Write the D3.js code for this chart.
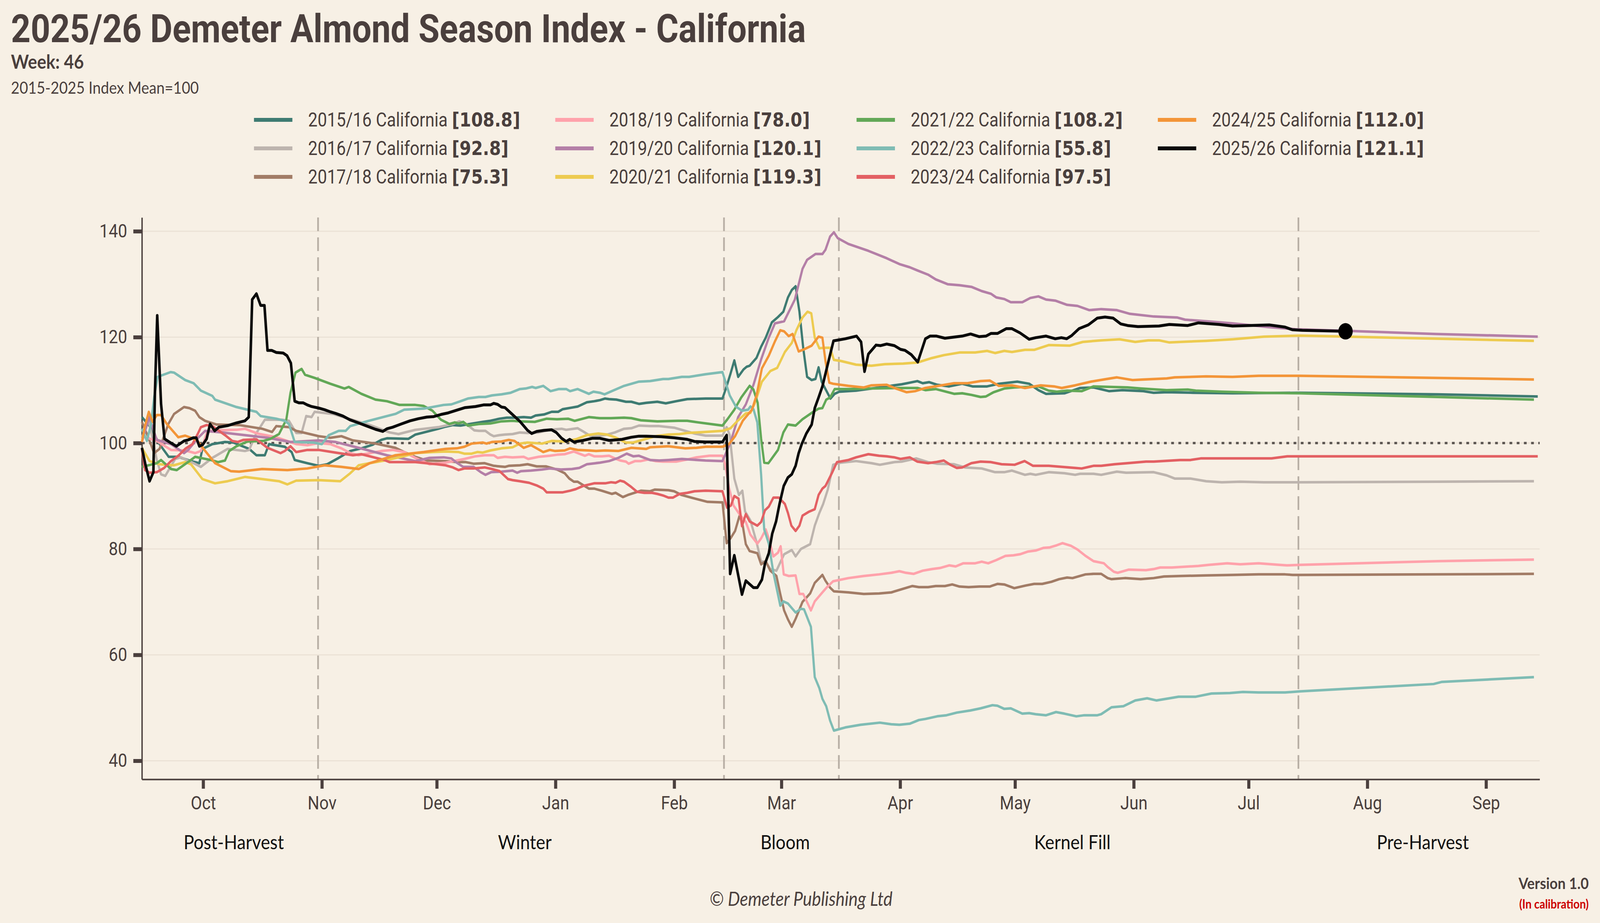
<!DOCTYPE html>
<html>
<head>
<meta charset="utf-8">
<script src="https://cdn.jsdelivr.net/npm/d3@7"></script>
<style>
  html, body { margin: 0; padding: 0; background: #f7f0e5; overflow: hidden; }
  svg { display: block; width: 100vw; height: 100vh; }
</style>
</head>
<body>
<svg id="chart"></svg>
<script>
// Every series is a list of [day, index] pairs, day = days since 15 Sep 2025.
var s1516 = [[0,104.9],[2.0,103.2],[4.6,99.8],[7.0,97.4],[9.5,97.4],[12.8,96.6],[15.0,96.2],[15.8,98.9],[18.4,99.8],[21.7,100.2],[23.9,100.1],[28.0,98.9],[29.9,97.7],[32.1,97.7],[33.2,99.8],[37.3,99.3],[39.1,98.3],[39.9,96.8],[43.2,96.2],[46.2,95.7],[48.4,96.0],[51.4,97.2],[54.4,98.5],[57.3,99.0],[60.3,99.7],[62.5,100.6],[64.0,100.9],[69.6,100.8],[71.4,101.6],[77.4,102.7],[79.3,103.1],[81.2,103.4],[83.2,103.3],[85.6,103.6],[89.0,104.0],[91.0,104.2],[93.4,104.6],[95.3,104.8],[97.3,104.8],[99.7,104.9],[101.6,104.8],[102.8,105.2],[105.0,105.4],[107.0,105.9],[108.7,105.9],[109.9,106.4],[112.3,106.7],[113.8,106.9],[116.2,107.7],[118.1,107.9],[119.6,108.1],[120.9,108.4],[122.0,108.3],[123.9,108.2],[126.4,107.8],[127.8,107.8],[129.8,107.4],[131.7,107.6],[134.6,107.8],[136.8,107.5],[139.5,107.9],[142.4,108.3],[147.2,108.4],[151.6,108.4],[152.5,110.3],[153.7,113.1],[154.7,115.6],[155.7,112.5],[157.1,113.9],[157.9,114.4],[158.7,114.6],[160.5,116.1],[161.7,118.2],[162.9,119.9],[164.5,122.8],[166.1,123.8],[167.5,124.8],[168.7,127.5],[169.7,128.9],[170.7,129.6],[171.7,124.8],[172.7,117.9],[173.7,112.5],[174.9,111.9],[175.9,112.1],[176.7,114.3],[177.5,111.6],[178.5,110.2],[179.8,108.4],[180.9,109.3],[182.1,109.7],[186.5,109.9],[194.5,110.7],[198.4,111.1],[200.5,111.4],[202.5,111.7],[203.9,111.3],[205.6,111.5],[207.7,111.0],[210.8,110.7],[214.2,111.2],[216.9,110.7],[220.7,110.7],[223.8,111.2],[228.6,111.6],[231.7,111.2],[234.1,110.0],[236.1,109.3],[240.9,109.4],[245.0,110.4],[248.5,110.5],[252.6,109.8],[256.0,110.0],[261.5,109.8],[264.2,109.5],[267.6,109.6],[274.5,109.5],[284.8,109.4],[302.4,109.5],[338.4,109.2],[364.5,108.8]];
var s1617 = [[0,101.0],[1.7,104.4],[2.8,100.8],[3.9,96.8],[5.0,94.1],[6.1,93.8],[8.7,97.0],[10.2,97.3],[13.5,96.2],[15.4,95.5],[18.4,97.2],[22.4,98.9],[26.9,98.5],[28.0,98.7],[29.9,101.9],[32.1,104.4],[36.5,104.4],[38.4,104.2],[40.3,101.9],[41.7,101.9],[42.9,105.1],[44.3,104.9],[45.1,105.9],[49.9,105.5],[54.4,104.5],[59.5,103.4],[64.7,102.0],[67.0,101.7],[71.4,102.5],[77.4,103.0],[81.2,103.6],[82.9,104.1],[84.2,103.8],[85.4,103.2],[86.8,102.4],[88.0,102.3],[89.7,102.3],[91.0,101.6],[91.9,101.3],[93.4,101.5],[94.8,101.6],[96.8,101.7],[98.7,102.0],[100.7,101.9],[103.6,102.0],[106.5,102.5],[109.6,102.7],[110.8,102.5],[113.8,102.8],[115.2,102.2],[117.2,101.3],[119.1,101.3],[121.5,101.6],[123.5,102.0],[125.9,102.7],[127.8,102.8],[129.8,103.3],[132.7,103.2],[135.1,103.2],[139.0,102.9],[141.9,102.3],[144.3,101.8],[147.2,101.4],[151.6,101.4],[152.7,103.0],[153.5,101.5],[154.7,93.3],[155.9,90.2],[156.8,91.0],[157.5,87.1],[158.9,85.4],[160.5,81.3],[161.7,77.6],[162.9,77.6],[164.1,76.2],[165.7,75.9],[167.7,79.0],[169.7,79.8],[170.7,78.6],[172.1,80.0],[174.5,80.9],[175.7,84.4],[176.9,86.8],[177.9,88.5],[179.1,91.2],[180.5,95.9],[182.5,96.3],[186.5,96.6],[190.5,96.2],[192.7,95.9],[196.5,96.4],[198.4,96.5],[202.2,97.1],[205.3,96.4],[207.7,96.1],[212.1,96.0],[214.9,95.4],[219.3,95.2],[222.8,94.5],[225.2,94.5],[227.2,94.8],[230.6,94.0],[232.0,94.2],[233.4,94.0],[236.8,94.5],[240.9,94.3],[243.7,94.0],[245.0,94.2],[248.5,94.2],[250.5,94.0],[254.6,94.6],[257.0,94.4],[264.2,94.5],[267.6,93.9],[269.7,93.3],[273.8,93.3],[277.9,92.8],[282.0,92.6],[286.8,92.7],[293.0,92.6],[302.4,92.6],[338.4,92.7],[363.5,92.8]];
var s1718 = [[0,104.0],[1.7,101.0],[3.2,98.1],[4.6,98.9],[6.9,103.6],[8.4,105.5],[11.0,106.8],[12.4,106.6],[13.9,106.1],[15.0,104.9],[16.5,104.2],[19.5,103.5],[25.4,103.4],[31.4,102.7],[34.0,102.1],[35.1,103.2],[38.4,103.0],[40.3,102.3],[46.2,101.3],[49.2,101.0],[52.1,101.3],[55.1,100.5],[61.0,99.9],[66.2,99.1],[68.5,98.3],[71.4,97.4],[74.4,96.7],[79.3,96.6],[82.2,96.4],[84.6,96.4],[86.6,96.1],[89.5,96.2],[91.9,95.7],[94.8,95.5],[95.8,95.7],[98.7,95.8],[100.7,96.0],[103.1,95.6],[105.5,95.6],[108.4,95.0],[110.4,94.3],[111.6,93.3],[112.8,92.7],[113.8,92.7],[116.7,91.4],[118.1,91.4],[120.1,91.0],[122.7,90.4],[123.7,90.6],[125.6,89.8],[126.9,90.2],[130.3,91.0],[132.7,90.9],[133.9,91.2],[137.5,91.1],[139.0,90.9],[140.9,90.2],[143.4,89.7],[147.7,88.9],[151.6,88.8],[152.7,81.1],[153.7,82.0],[154.9,83.4],[156.1,86.4],[156.9,84.4],[157.7,80.9],[158.7,79.6],[160.7,79.2],[161.7,77.1],[162.9,77.7],[164.1,75.9],[165.7,74.9],[166.7,71.5],[167.7,68.4],[168.7,66.7],[169.7,65.3],[170.7,66.8],[172.5,70.0],[174.5,71.6],[175.7,73.6],[177.7,75.1],[178.5,74.0],[179.7,72.7],[180.7,72.0],[184.5,71.8],[188.5,71.5],[192.5,71.6],[195.7,71.8],[198.4,72.4],[201.2,73.0],[202.9,72.8],[205.3,72.8],[207.3,73.0],[209.7,73.0],[211.6,73.3],[213.5,72.9],[215.9,72.8],[218.7,72.9],[221.4,72.9],[223.4,73.4],[225.2,73.3],[227.8,72.6],[230.8,73.1],[233.0,73.4],[235.1,73.4],[237.5,73.8],[239.5,74.3],[241.6,74.6],[243.0,74.5],[246.4,75.2],[248.5,75.3],[250.5,75.3],[252.2,74.5],[253.2,74.3],[256.7,74.5],[260.8,74.3],[264.2,74.5],[266.9,74.8],[271.1,74.9],[277.9,75.0],[284.8,75.1],[291.6,75.2],[298.5,75.2],[300.5,75.1],[302.4,75.1],[338.4,75.2],[363.5,75.3]];
var s1819 = [[0,101.3],[3.9,100.4],[7.6,98.7],[11.3,98.6],[13.9,98.1],[15.4,98.5],[16.9,101.9],[18.4,102.4],[24.7,102.5],[26.9,102.7],[30.2,101.8],[35.1,101.1],[40.3,99.8],[43.2,99.6],[46.2,100.0],[49.2,99.8],[52.1,99.0],[54.4,98.1],[56.6,97.7],[62.5,98.5],[65.5,98.7],[68.5,98.3],[71.4,97.2],[75.1,96.0],[79.3,96.3],[82.2,96.7],[84.2,97.0],[87.1,97.5],[89.5,97.7],[91.9,97.7],[92.9,97.2],[94.8,97.4],[96.8,97.3],[99.7,97.4],[100.9,97.0],[103.6,97.4],[106.5,97.6],[108.4,97.8],[110.4,97.9],[112.8,98.4],[114.2,98.0],[115.7,97.6],[116.7,97.9],[118.1,97.5],[120.1,97.5],[122.0,97.6],[123.5,97.1],[124.9,96.7],[126.4,96.5],[127.1,96.1],[128.8,96.6],[130.3,96.6],[132.2,96.9],[134.1,96.6],[136.1,96.5],[139.5,96.5],[142.4,96.9],[144.8,97.3],[148.2,97.6],[151.6,97.6],[152.3,96.0],[153.3,91.6],[154.5,88.2],[156.1,86.5],[157.7,85.1],[158.9,82.7],[160.7,81.0],[161.7,82.0],[162.9,83.7],[163.7,82.0],[164.9,78.6],[166.1,79.3],[166.8,80.5],[167.6,75.2],[168.9,74.9],[170.7,75.0],[171.7,71.5],[172.7,71.5],[174.7,68.4],[175.7,70.1],[177.7,71.8],[178.9,72.8],[180.5,73.9],[184.5,74.5],[188.5,74.9],[192.5,75.2],[195.7,75.5],[197.8,75.8],[199.5,75.5],[201.5,75.3],[203.9,75.9],[206.3,76.2],[208.4,76.4],[210.8,76.9],[212.5,76.7],[214.5,77.3],[217.6,77.3],[219.3,77.6],[221.0,77.3],[223.1,77.9],[225.5,78.7],[227.6,78.8],[229.3,79.0],[231.3,79.5],[233.4,79.7],[235.4,80.2],[237.1,80.3],[238.9,80.7],[240.4,81.1],[242.6,80.6],[244.3,79.9],[246.4,78.7],[248.5,77.7],[251.2,77.3],[252.2,76.6],[253.8,75.7],[254.8,75.5],[257.7,76.1],[262.2,76.0],[264.2,76.2],[265.9,76.5],[269.0,76.5],[275.9,76.8],[278.6,77.0],[283.4,77.3],[286.8,77.1],[291.6,77.3],[297.1,77.0],[299.0,76.9],[302.4,77.0],[338.4,77.7],[363.5,78.0]];
var s1920 = [[0,100.2],[1.9,104.9],[3.9,100.6],[7.6,99.8],[11.0,98.1],[12.1,98.7],[14.7,101.0],[16.5,102.3],[21.0,102.0],[26.9,101.5],[32.8,101.0],[38.8,100.2],[46.2,100.5],[50.6,100.2],[56.6,99.1],[64.0,97.7],[71.4,96.6],[75.1,97.2],[78.8,97.3],[80.8,97.1],[82.2,96.3],[83.9,95.5],[86.6,95.5],[88.5,94.5],[89.7,94.0],[91.2,94.5],[93.9,94.6],[96.8,94.8],[98.0,94.4],[99.0,94.7],[101.6,94.8],[104.5,95.0],[106.5,95.2],[109.4,95.0],[112.3,95.1],[114.2,95.3],[116.2,96.0],[119.6,96.3],[122.0,96.6],[124.4,97.2],[126.6,98.0],[128.3,97.5],[129.8,97.6],[132.7,96.8],[135.1,96.7],[137.5,96.8],[141.0,97.0],[147.2,96.7],[151.6,96.6],[153.7,100.1],[155.7,104.9],[157.7,107.3],[159.7,111.0],[161.7,115.8],[163.7,119.9],[165.3,122.6],[167.7,123.0],[170.5,127.1],[172.5,132.9],[173.7,134.6],[175.9,135.7],[177.7,135.7],[178.5,136.5],[179.7,139.0],[180.7,139.8],[181.7,138.7],[184.5,137.6],[189.7,136.3],[194.5,134.9],[197.8,133.8],[200.5,133.2],[202.5,132.6],[205.3,131.8],[207.3,130.9],[210.4,130.0],[213.5,129.8],[216.6,129.5],[219.3,128.7],[221.7,128.2],[223.1,127.5],[225.2,127.2],[226.9,126.6],[229.9,126.6],[232.0,127.4],[234.1,127.7],[236.1,127.1],[238.5,126.9],[241.6,126.1],[244.3,125.9],[247.4,125.1],[250.5,125.3],[254.6,125.1],[258.0,124.4],[264.2,123.9],[270.4,123.7],[272.4,123.3],[277.9,123.0],[284.8,122.6],[294.2,121.9],[301.2,121.5],[314.3,121.2],[338.0,120.6],[364.5,120.1]];
var s2021 = [[0,99.1],[2.0,96.6],[4.6,96.0],[8.3,95.8],[11.3,96.4],[12.8,96.0],[15.8,93.2],[19.1,92.4],[22.4,92.8],[26.9,93.6],[31.4,93.2],[35.8,92.8],[38.0,92.2],[40.3,92.9],[46.2,93.0],[51.8,92.8],[54.4,94.3],[56.6,95.8],[59.5,96.2],[64.0,96.8],[67.7,97.4],[71.4,98.1],[76.0,98.3],[79.3,98.4],[82.7,98.3],[84.2,98.0],[86.1,98.0],[87.6,98.3],[89.0,98.2],[91.0,98.6],[93.9,99.0],[96.8,99.2],[98.7,99.9],[100.7,100.1],[104.5,99.9],[107.0,100.4],[110.4,100.3],[113.3,100.7],[116.2,101.5],[119.1,101.8],[121.5,101.6],[123.5,101.1],[126.4,100.1],[128.3,100.1],[131.2,100.7],[134.1,101.3],[137.5,101.6],[140.4,101.7],[142.4,101.9],[147.2,102.1],[151.6,102.3],[153.7,102.8],[155.7,104.3],[157.7,105.6],[158.9,105.7],[160.1,107.6],[161.9,111.6],[164.1,113.6],[165.9,114.2],[167.9,117.2],[169.7,118.9],[170.9,121.3],[172.5,123.7],[173.8,124.8],[174.8,124.5],[175.7,119.9],[176.9,117.9],[178.1,118.0],[179.7,118.0],[180.7,115.7],[182.5,115.5],[186.5,114.8],[190.5,114.6],[194.0,114.9],[198.8,115.0],[202.5,115.2],[206.0,116.0],[209.4,116.6],[213.5,117.1],[217.6,117.1],[220.7,117.4],[222.8,117.0],[225.2,117.4],[227.2,117.2],[230.6,117.6],[233.0,117.6],[236.8,118.5],[242.3,118.4],[245.7,119.1],[250.5,119.4],[255.3,119.6],[259.4,119.1],[262.8,119.4],[265.6,119.4],[268.3,119.0],[274.5,119.2],[277.9,119.3],[284.8,119.6],[293.0,120.1],[302.4,120.3],[338.4,119.7],[363.5,119.3]];
var s2122 = [[0,95.5],[3.9,96.2],[5.0,96.8],[7.6,95.1],[9.1,94.9],[12.4,96.6],[13.9,97.4],[18.0,96.8],[19.9,96.4],[21.7,96.7],[22.8,98.5],[24.7,99.4],[27.6,100.3],[31.7,100.4],[33.6,100.8],[35.8,101.7],[37.7,104.4],[38.8,109.5],[40.1,113.3],[41.7,114.0],[42.6,112.9],[45.1,112.3],[49.2,111.2],[52.9,110.3],[54.0,110.6],[57.3,109.3],[61.0,108.2],[64.0,107.9],[67.3,107.2],[71.4,107.2],[73.6,107.0],[75.9,106.1],[78.1,104.4],[80.3,103.6],[81.7,103.9],[82.7,103.7],[83.9,104.0],[85.1,103.3],[88.0,103.6],[91.0,103.7],[93.9,104.1],[96.8,104.2],[98.7,104.1],[102.6,104.0],[105.7,104.6],[108.4,104.5],[111.3,104.6],[113.0,104.2],[116.7,104.9],[119.6,104.7],[122.5,104.7],[125.9,104.8],[127.8,104.7],[130.3,104.3],[134.6,104.1],[140.0,104.2],[142.4,104.2],[145.3,103.9],[151.6,103.3],[152.9,104.5],[154.7,106.3],[156.5,108.6],[158.7,110.8],[159.7,110.1],[160.8,107.6],[161.7,100.8],[162.5,96.3],[163.6,96.2],[164.9,97.5],[166.1,98.7],[167.5,102.0],[168.7,103.5],[170.7,103.3],[172.5,104.5],[174.9,105.7],[176.7,106.5],[177.7,106.6],[178.7,108.2],[179.7,108.6],[180.9,110.2],[184.5,110.2],[190.5,110.3],[198.5,110.4],[202.5,110.4],[204.6,110.0],[207.3,110.2],[212.1,109.3],[214.2,109.4],[216.6,109.1],[219.0,108.7],[220.4,108.8],[222.4,109.6],[225.2,110.3],[227.9,110.5],[234.1,110.7],[236.8,109.9],[238.9,109.7],[241.6,109.9],[245.4,109.8],[248.5,110.7],[257.4,110.5],[260.8,110.3],[267.6,110.0],[273.1,110.1],[275.2,109.9],[282.0,109.7],[291.6,109.5],[302.4,109.4],[338.4,108.7],[363.5,108.2]];
var s2223 = [[0,102.7],[1.3,100.4],[2.4,103.6],[3.2,108.7],[4.1,112.5],[7.5,113.4],[8.4,113.3],[11.3,111.9],[13.5,111.3],[15.4,109.9],[18.4,108.9],[19.1,108.2],[24.7,106.8],[29.9,105.9],[31.0,105.1],[35.1,104.6],[37.3,104.2],[38.4,103.6],[39.9,100.2],[44.7,100.1],[47.0,99.8],[48.8,101.5],[51.4,102.3],[53.2,102.3],[54.4,103.2],[59.2,104.2],[64.0,105.1],[66.2,105.5],[68.5,106.3],[73.6,106.5],[78.8,107.2],[80.8,107.3],[83.2,107.9],[85.1,108.4],[88.0,108.7],[89.7,108.7],[91.4,109.0],[93.9,109.2],[96.3,109.5],[98.7,110.2],[100.2,110.3],[101.9,110.6],[102.8,110.4],[104.8,110.8],[106.7,109.8],[108.9,110.2],[110.8,110.2],[111.8,109.8],[113.8,110.2],[116.7,109.3],[117.9,109.7],[119.6,109.5],[120.8,109.2],[123.0,109.9],[125.9,110.8],[129.8,111.6],[132.7,111.7],[136.1,112.1],[137.5,112.1],[141.0,112.5],[142.9,112.5],[147.2,113.0],[151.6,113.4],[153.5,109.0],[155.1,106.9],[156.7,106.1],[158.3,106.3],[158.9,106.9],[159.7,106.4],[160.7,103.9],[161.7,94.0],[162.5,83.7],[163.7,81.0],[164.9,75.5],[166.7,69.3],[167.5,70.1],[168.7,69.7],[170.7,68.0],[172.1,68.7],[172.9,68.6],[174.7,65.3],[175.7,55.8],[176.9,53.7],[177.7,51.7],[178.7,50.3],[179.7,47.6],[180.7,45.7],[183.7,46.3],[187.7,46.8],[192.7,47.2],[195.7,46.9],[197.8,46.8],[200.5,47.0],[202.9,47.7],[204.6,47.9],[207.7,48.4],[210.1,48.6],[212.8,49.1],[216.3,49.5],[219.0,49.9],[222.1,50.5],[223.4,50.4],[225.2,49.8],[226.9,49.9],[229.9,48.9],[231.7,49.0],[233.4,48.8],[236.1,48.6],[238.7,49.2],[240.9,48.9],[244.0,48.4],[246.1,48.6],[249.5,48.6],[250.5,48.8],[253.2,50.1],[256.3,50.3],[259.4,51.4],[262.5,51.8],[264.9,51.4],[268.3,51.8],[270.7,52.1],[275.2,52.1],[279.3,52.7],[284.1,52.8],[287.5,53.0],[291.6,52.9],[298.5,52.9],[302.4,53.1],[337.3,54.5],[339.5,54.9],[363.5,55.8]];
var s2324 = [[0,98.9],[0.8,94.9],[2.0,94.4],[3.9,94.5],[5.8,95.3],[7.6,96.6],[9.5,97.6],[11.3,98.9],[13.2,99.8],[14.7,101.9],[15.4,103.0],[16.9,103.4],[18.4,103.2],[21.7,101.5],[23.6,100.4],[25.0,100.2],[26.5,100.6],[29.9,100.7],[32.8,99.1],[36.2,98.1],[37.3,98.5],[38.8,99.4],[40.3,98.3],[43.2,98.7],[46.2,98.7],[50.6,98.2],[55.1,97.7],[57.3,97.9],[63.3,96.8],[64.7,96.4],[71.4,96.4],[77.0,96.0],[79.3,95.8],[81.2,95.4],[82.7,94.9],[84.2,95.2],[86.6,95.2],[89.5,95.4],[91.4,95.1],[93.4,94.7],[95.6,93.2],[96.8,93.0],[98.7,92.8],[101.1,92.5],[103.1,92.0],[104.8,91.4],[105.7,90.7],[109.9,90.7],[111.8,91.0],[113.3,91.3],[115.2,91.9],[118.1,92.4],[121.0,92.4],[122.5,92.6],[123.7,92.5],[124.9,92.9],[125.9,92.7],[127.8,91.7],[129.3,90.8],[131.2,90.6],[133.2,90.6],[134.6,90.4],[136.1,90.1],[137.5,89.7],[138.7,89.7],[140.4,90.4],[142.4,90.6],[144.3,90.9],[147.2,91.0],[151.6,90.9],[152.8,87.8],[153.8,88.2],[154.7,90.0],[155.8,89.5],[156.7,84.3],[157.7,86.6],[158.7,85.2],[160.7,84.4],[161.7,85.1],[162.7,87.3],[163.7,88.0],[164.9,89.7],[166.3,89.7],[167.9,88.5],[168.7,86.8],[169.6,84.4],[170.7,83.4],[171.7,84.4],[172.5,86.3],[174.1,87.0],[175.7,87.5],[176.7,90.2],[177.7,91.4],[178.5,91.9],[180.3,94.5],[181.5,96.4],[184.5,96.8],[186.5,97.3],[189.7,97.9],[192.5,97.6],[194.5,97.5],[196.5,97.3],[198.1,97.0],[200.5,97.3],[202.5,96.5],[205.3,96.2],[207.3,96.4],[209.4,96.7],[211.1,95.9],[212.8,95.3],[214.2,95.4],[216.6,96.2],[219.0,96.5],[221.7,96.4],[224.5,96.0],[227.9,95.9],[230.5,96.6],[232.7,95.7],[236.8,95.7],[243.7,95.3],[245.4,95.2],[248.5,95.7],[250.5,95.7],[254.0,96.0],[257.4,96.2],[262.2,96.5],[264.2,96.5],[271.1,96.8],[273.8,96.8],[276.5,97.1],[284.8,97.1],[295.0,97.1],[299.1,97.5],[302.4,97.5],[364.5,97.5]];
var s2425 = [[0,100.2],[0.8,103.2],[1.8,105.9],[2.8,104.0],[3.9,105.3],[5.0,105.3],[6.5,103.6],[9.5,101.1],[11.3,101.4],[14.3,100.6],[16.1,98.9],[19.1,96.2],[23.2,94.7],[25.4,94.6],[31.4,95.1],[38.0,94.9],[43.2,95.2],[47.7,95.8],[52.1,95.5],[56.6,95.1],[59.5,96.2],[66.2,97.7],[73.6,98.3],[79.3,98.9],[82.2,99.0],[84.2,99.3],[86.1,99.9],[89.0,100.1],[90.0,99.9],[91.4,100.2],[93.9,100.3],[95.8,100.6],[97.3,100.4],[99.7,99.1],[101.6,99.6],[103.1,99.0],[104.8,98.3],[106.5,98.7],[107.9,98.5],[110.4,98.6],[111.8,99.0],[113.8,98.7],[116.7,98.6],[118.6,98.5],[121.0,98.6],[124.4,98.5],[127.8,99.1],[131.7,98.9],[132.7,99.2],[137.5,99.4],[141.9,99.0],[144.8,99.1],[147.2,99.3],[151.6,99.3],[153.3,99.8],[154.9,101.3],[156.9,104.2],[159.3,106.3],[160.5,109.0],[161.9,114.1],[163.7,116.5],[165.3,119.2],[166.7,121.3],[167.7,121.1],[168.9,120.2],[169.9,120.6],[171.5,117.3],[172.9,117.7],[174.9,118.4],[176.7,120.1],[177.7,119.9],[178.5,115.5],[179.5,111.4],[180.5,111.2],[184.5,110.8],[188.5,110.5],[190.5,110.9],[194.5,111.0],[196.9,110.3],[199.7,109.6],[201.9,109.8],[204.6,110.4],[208.0,110.8],[212.1,111.3],[215.6,111.3],[219.0,111.7],[221.4,111.8],[223.8,110.8],[227.2,110.9],[230.6,110.4],[234.7,110.9],[238.2,110.7],[240.2,110.4],[243.7,110.9],[247.8,111.6],[251.9,112.1],[254.6,112.4],[258.7,111.9],[261.5,112.0],[267.6,112.2],[269.7,112.4],[277.9,112.6],[284.8,112.5],[291.6,112.7],[302.4,112.7],[338.4,112.3],[363.5,112.0]];
var s2526 = [[0,99.1],[0.9,96.0],[2.0,92.8],[3.0,94.5],[3.4,109.5],[4.0,124.1],[5.0,107.4],[5.9,100.8],[7.6,100.0],[9.0,99.4],[11.0,100.4],[12.1,100.6],[13.4,101.0],[14.2,101.0],[15.0,99.4],[15.9,99.7],[16.9,100.8],[17.8,103.6],[19.0,102.3],[20.1,103.0],[22.4,103.3],[24.7,103.8],[26.9,104.2],[27.9,104.9],[28.8,127.1],[29.9,128.2],[31.0,126.0],[32.0,126.0],[32.8,117.5],[33.9,117.5],[35.1,117.1],[36.9,117.0],[37.9,116.5],[38.9,115.1],[39.9,107.9],[41.0,107.6],[42.1,107.6],[43.2,107.2],[44.3,106.9],[46.2,106.6],[47.7,106.3],[49.2,105.9],[50.6,105.6],[52.5,105.1],[54.3,104.4],[56.6,103.8],[58.8,103.2],[61.0,102.6],[62.9,102.2],[64.0,102.7],[65.5,103.0],[67.7,103.6],[70.0,104.2],[72.2,104.6],[74.4,104.9],[76.2,105.0],[78.1,105.4],[80.0,105.7],[82.6,106.3],[84.4,106.7],[87.1,106.9],[89.2,107.2],[91.0,107.2],[91.9,107.5],[92.9,107.3],[93.9,106.8],[94.8,106.7],[96.3,105.7],[98.7,104.1],[100.7,102.4],[101.8,101.8],[103.1,102.2],[105.0,102.4],[107.0,102.5],[108.2,102.0],[109.6,100.9],[110.8,100.3],[111.7,100.7],[112.8,100.2],[115.2,100.5],[117.6,100.9],[119.6,100.9],[122.0,100.5],[125.4,100.7],[127.8,101.1],[129.8,101.3],[131.7,101.3],[135.6,101.2],[139.0,101.0],[142.4,100.7],[144.3,100.3],[147.2,100.2],[151.6,100.2],[152.7,101.5],[153.6,75.3],[154.7,78.8],[156.7,71.4],[157.7,74.0],[159.7,72.7],[160.7,72.7],[161.9,74.2],[162.7,77.2],[163.7,79.2],[164.6,82.9],[165.6,85.2],[166.5,88.5],[167.6,91.9],[168.7,93.5],[169.7,94.1],[170.7,95.7],[171.5,98.1],[172.3,99.8],[173.5,101.8],[174.9,103.5],[175.7,106.6],[176.7,108.6],[177.7,110.7],[179.1,114.9],[180.6,119.3],[183.7,119.7],[186.6,120.2],[187.8,119.1],[188.7,113.5],[189.7,116.8],[191.7,118.5],[192.9,118.4],[194.5,118.7],[196.5,118.4],[198.1,117.7],[199.3,117.5],[200.9,116.7],[202.6,115.3],[204.6,119.7],[205.8,120.2],[207.5,120.2],[209.7,119.8],[214.2,120.2],[216.4,120.6],[218.6,120.1],[220.4,120.2],[221.7,120.7],[223.4,120.7],[225.7,121.6],[227.2,121.6],[229.3,120.8],[231.7,119.6],[233.4,119.9],[236.1,120.2],[238.5,119.7],[240.1,119.9],[241.5,119.7],[242.8,120.3],[244.7,121.6],[247.1,122.3],[249.5,123.6],[251.5,123.8],[253.6,123.6],[255.6,122.5],[257.4,122.2],[260.1,122.0],[265.6,122.1],[268.3,122.4],[273.1,122.2],[275.9,122.7],[281.3,122.4],[284.8,122.1],[294.4,122.3],[298.5,121.9],[300.4,121.4],[303.0,121.3],[314.3,121.1]];

var seasonNames = ["2015/16", "2016/17", "2017/18", "2018/19", "2019/20", "2020/21",
                   "2021/22", "2022/23", "2023/24", "2024/25", "2025/26"];
var finalValues = [108.8, 92.8, 75.3, 78.0, 120.1, 119.3, 108.2, 55.8, 97.5, 112.0, 121.1];
var seriesValues = [s1516, s1617, s1718, s1819, s1920, s2021, s2122, s2223, s2324, s2425, s2526];
var seriesColors = ["#3e7b72", "#bdb4ae", "#a27c66", "#ffa2ab", "#b47fa7", "#edcb50",
                    "#62a857", "#7fbcb4", "#e36063", "#f39538", "#0a0a0a"];

var yTicks = [40, 60, 80, 100, 120, 140];
var phaseNames = ["Post-Harvest", "Winter", "Bloom", "Kernel Fill", "Pre-Harvest"];
var phaseBreaks = ["2025-10-31", "2026-02-14", "2026-03-16", "2026-07-14"];
var weekNumber = 46;

var W = 4668, H = 2364;
var ink = "#4a3f3d";
var seasonStart = Date.UTC(2025, 8, 15), seasonEnd = Date.UTC(2026, 8, 15);
var dayToDate = function(d) { return new Date(seasonStart + d * 864e5); };

var margin = {top: 557, right: 176, bottom: 368, left: 414};

// the drawing is laid out in a 4668 x 2364 box and stretched to the window
var svg = d3.select('#chart')
  .attr('viewBox', '0 0 ' + W + ' ' + H)
  .attr('preserveAspectRatio', 'none');

svg.append('rect').attr('width', W).attr('height', H).attr('fill', '#f7f0e5');

var x = d3.scaleUtc()
  .domain([new Date(seasonStart), new Date(seasonEnd)])
  .range([margin.left, W - margin.right]);

var y = d3.scaleLinear()
  .domain([36.5, 142.6])
  .range([H - margin.bottom, margin.top]);

// title block
svg.append('text')
  .attr('x', 32).attr('y', 108)
  .attr('font-family', 'Roboto').attr('font-weight', 700).attr('font-size', 100)
  .attr('fill', ink)
  .text('2025/26 Demeter Almond Season Index - California');

svg.append('text')
  .attr('x', 32).attr('y', 176)
  .attr('font-family', 'Lato').attr('font-weight', 700).attr('font-size', 50)
  .attr('fill', ink)
  .text('Week: ' + weekNumber);

svg.append('text')
  .attr('x', 32).attr('y', 240)
  .attr('font-family', 'Lato').attr('font-size', 43)
  .attr('fill', ink)
  .text('2015-2025 Index Mean=100');

// gridlines
svg.append('g').selectAll('line')
  .data(yTicks)
  .enter().append('line')
  .attr('x1', x.range()[0]).attr('x2', x.range()[1])
  .attr('y1', function(d) { return y(d); })
  .attr('y2', function(d) { return y(d); })
  .attr('stroke', '#ebe2d6').attr('stroke-width', 3);

// phase boundaries
svg.append('g').selectAll('line')
  .data(phaseBreaks)
  .enter().append('line')
  .attr('x1', function(d) { return x(new Date(d)); })
  .attr('x2', function(d) { return x(new Date(d)); })
  .attr('y1', y.range()[1]).attr('y2', y.range()[0])
  .attr('stroke', '#b8afa5').attr('stroke-width', 5)
  .attr('stroke-dasharray', '35,16');

// mean = 100
svg.append('line')
  .attr('x1', x.range()[0]).attr('x2', x.range()[1])
  .attr('y1', y(100)).attr('y2', y(100))
  .attr('stroke', '#5a5450').attr('stroke-width', 6)
  .attr('stroke-dasharray', '8,13');

// axes
var yAxis = d3.axisLeft(y)
  .tickValues(yTicks)
  .tickSizeInner(25)
  .tickSizeOuter(0)
  .tickPadding(18);

var xAxis = d3.axisBottom(x)
  .ticks(d3.utcMonth.every(1))
  .tickFormat(d3.utcFormat('%b'))
  .tickSizeInner(24)
  .tickSizeOuter(0)
  .tickPadding(19);

var gy = svg.append('g')
  .attr('transform', 'translate(' + margin.left + ',0)')
  .call(yAxis);

var gx = svg.append('g')
  .attr('transform', 'translate(0,' + (H - margin.bottom) + ')')
  .call(xAxis);

[gx, gy].forEach(function(g) {
  g.select('.domain').attr('stroke', ink).attr('stroke-width', 4);
  g.selectAll('.tick line').attr('stroke', ink).attr('stroke-width', 10);
  g.selectAll('.tick text')
    .attr('fill', ink)
    .attr('font-family', 'Roboto')
    .attr('font-size', 48);
});
gx.selectAll('.tick line').attr('stroke-width', 9);

// phase labels, centred between boundaries
var phaseEdges = [new Date(seasonStart)]
  .concat(phaseBreaks.map(function(d) { return new Date(d); }))
  .concat([new Date(seasonEnd)]);

svg.append('g').selectAll('text')
  .data(phaseNames)
  .enter().append('text')
  .attr('x', function(d, i) { return (x(phaseEdges[i]) + x(phaseEdges[i + 1])) / 2 + 11; })
  .attr('y', 2175)
  .attr('text-anchor', 'middle')
  .attr('font-family', 'Lato').attr('font-size', 51)
  .attr('fill', '#111')
  .text(function(d) { return d; });

// season lines, current season last
var line = d3.line()
  .x(function(d) { return x(dayToDate(d[0])); })
  .y(function(d) { return y(d[1]); });

svg.append('g').selectAll('path')
  .data(seriesValues)
  .enter().append('path')
  .attr('d', line)
  .attr('fill', 'none')
  .attr('stroke', function(d, i) { return seriesColors[i]; })
  .attr('stroke-width', function(d, i) { return i === seriesValues.length - 1 ? 7.5 : 6.5; })
  .attr('stroke-linejoin', 'round');

var last = s2526[s2526.length - 1];
svg.append('circle')
  .attr('cx', x(dayToDate(last[0])))
  .attr('cy', y(last[1]))
  .attr('r', 21)
  .attr('fill', '#000');

// legend, 4 columns of 3
var legend = svg.append('g').selectAll('g')
  .data(seasonNames)
  .enter().append('g')
  .attr('transform', function(d, i) {
    return 'translate(' + (741 + Math.floor(i / 3) * 879) + ',' + (307 + (i % 3) * 73) + ')';
  });

legend.append('line')
  .attr('x1', 0).attr('x2', 112)
  .attr('stroke', function(d, i) { return seriesColors[i]; })
  .attr('stroke-width', 10);

var lt = legend.append('text')
  .attr('x', 158).attr('y', 17)
  .attr('font-family', 'Roboto').attr('font-size', 49)
  .attr('fill', ink);
lt.append('tspan').text(function(d) { return d + ' California '; });
lt.append('tspan')
  .attr('font-family', 'DejaVu Sans').attr('font-weight', 700)
  .text(function(d, i) { return '[' + finalValues[i].toFixed(1) + ']'; });

// footer
svg.append('text')
  .attr('x', 2337).attr('y', 2320)
  .attr('text-anchor', 'middle')
  .attr('font-family', 'Lato').attr('font-style', 'italic').attr('font-size', 50)
  .attr('fill', ink)
  .text('\u00A9 Demeter Publishing Ltd');

svg.append('text')
  .attr('x', 4635).attr('y', 2277)
  .attr('text-anchor', 'end')
  .attr('font-family', 'Lato').attr('font-weight', 700).attr('font-size', 41)
  .attr('fill', ink)
  .text('Version 1.0');

svg.append('text')
  .attr('x', 4635).attr('y', 2327)
  .attr('text-anchor', 'end')
  .attr('font-family', 'Lato').attr('font-weight', 700).attr('font-size', 32)
  .attr('fill', '#cc0000')
  .text('(In calibration)');
</script>
</body>
</html>
